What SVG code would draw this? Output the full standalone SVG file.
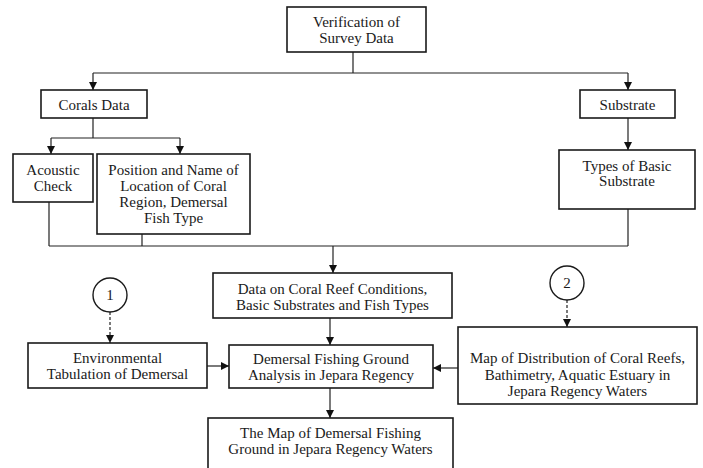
<svg xmlns="http://www.w3.org/2000/svg" width="703" height="468" viewBox="0 0 703 468">
<style>
.box{fill:#fff;stroke:#1a1a1a;stroke-width:1.6}
text{font-family:'Liberation Serif','DejaVu Serif','Times New Roman',Times,serif;font-size:15px;fill:#1a1a1a;text-anchor:middle}
.c{fill:none;stroke:#222;stroke-width:1.2}
.d{fill:none;stroke:#222;stroke-width:1.2;stroke-dasharray:3,2}
</style>
<defs>
<marker id="ah" viewBox="0 0 10 10" refX="10" refY="5" markerWidth="8" markerHeight="8" markerUnits="userSpaceOnUse" orient="auto">
<path d="M0,0 L10,5 L0,10 z" fill="#111"/>
</marker>
</defs>
<rect width="703" height="468" fill="#fff"/>
<g id="connectors">
<path class="c" d="M353,52 V73 M93,73 H628"/>
<path class="c" d="M93,73 V90" marker-end="url(#ah)"/>
<path class="c" d="M628,73 V90" marker-end="url(#ah)"/>
<path class="c" d="M93,118 V138 M51,138 H180"/>
<path class="c" d="M51,138 V154" marker-end="url(#ah)"/>
<path class="c" d="M180,138 V154" marker-end="url(#ah)"/>
<path class="c" d="M628,118 V150" marker-end="url(#ah)"/>
<path class="c" d="M49,202 V246 M142,234 V246 M628,209 V246 M49,246 H628"/>
<path class="c" d="M333,246 V273" marker-end="url(#ah)"/>
<path class="c" d="M330,318 V345" marker-end="url(#ah)"/>
<path class="c" d="M207,366 H229" marker-end="url(#ah)"/>
<path class="c" d="M458,368 H433" marker-end="url(#ah)"/>
<path class="c" d="M330,388 V418" marker-end="url(#ah)"/>
<path class="d" d="M110,312 V343" marker-end="url(#ah)"/>
<path class="d" d="M567,300 V327" marker-end="url(#ah)"/>
</g>
<g id="verification">
<rect class="box" x="287" y="7" width="139" height="45"/>
<text x="356.5" y="27">Verification of</text>
<text x="356.5" y="43">Survey Data</text>
</g>
<g id="corals">
<rect class="box" x="41" y="90" width="106" height="28"/>
<text x="94" y="110">Corals Data</text>
</g>
<g id="substrate">
<rect class="box" x="580" y="90" width="95" height="28"/>
<text x="627.5" y="110">Substrate</text>
</g>
<g id="acoustic">
<rect class="box" x="13" y="154" width="80" height="48"/>
<text x="53" y="175">Acoustic</text>
<text x="53" y="191">Check</text>
</g>
<g id="position">
<rect class="box" x="97" y="154" width="153" height="80"/>
<text x="173.5" y="175">Position and Name of</text>
<text x="173.5" y="191">Location of Coral</text>
<text x="173.5" y="207">Region, Demersal</text>
<text x="173.5" y="223">Fish Type</text>
</g>
<g id="types">
<rect class="box" x="559" y="150" width="136" height="59"/>
<text x="627" y="171">Types of Basic</text>
<text x="627" y="186">Substrate</text>
</g>
<g id="datacoral">
<rect class="box" x="213" y="273" width="239" height="45"/>
<text x="332.5" y="294">Data on Coral Reef Conditions,</text>
<text x="332.5" y="310">Basic Substrates and Fish Types</text>
</g>
<g id="circle1">
<circle cx="110" cy="295" r="17" fill="#fff" stroke="#1a1a1a" stroke-width="1.4"/>
<text x="110" y="300">1</text>
</g>
<g id="circle2">
<circle cx="567" cy="283" r="17" fill="#fff" stroke="#1a1a1a" stroke-width="1.4"/>
<text x="567" y="288">2</text>
</g>
<g id="environmental">
<rect class="box" x="28" y="343" width="179" height="45"/>
<text x="117.5" y="363">Environmental</text>
<text x="117.5" y="379">Tabulation of Demersal</text>
</g>
<g id="analysis">
<rect class="box" x="229" y="345" width="204" height="43"/>
<text x="331" y="364">Demersal Fishing Ground</text>
<text x="331" y="380">Analysis in Jepara Regency</text>
</g>
<g id="mapdist">
<rect class="box" x="458" y="327" width="239" height="77"/>
<text x="577.5" y="363">Map of Distribution of Coral Reefs,</text>
<text x="577.5" y="380">Bathimetry, Aquatic Estuary in</text>
<text x="577.5" y="396">Jepara Regency Waters</text>
</g>
<g id="finalmap">
<rect class="box" x="208" y="418" width="245" height="60"/>
<text x="330.5" y="438">The Map of Demersal Fishing</text>
<text x="330.5" y="454">Ground in Jepara Regency Waters</text>
</g>
</svg>
